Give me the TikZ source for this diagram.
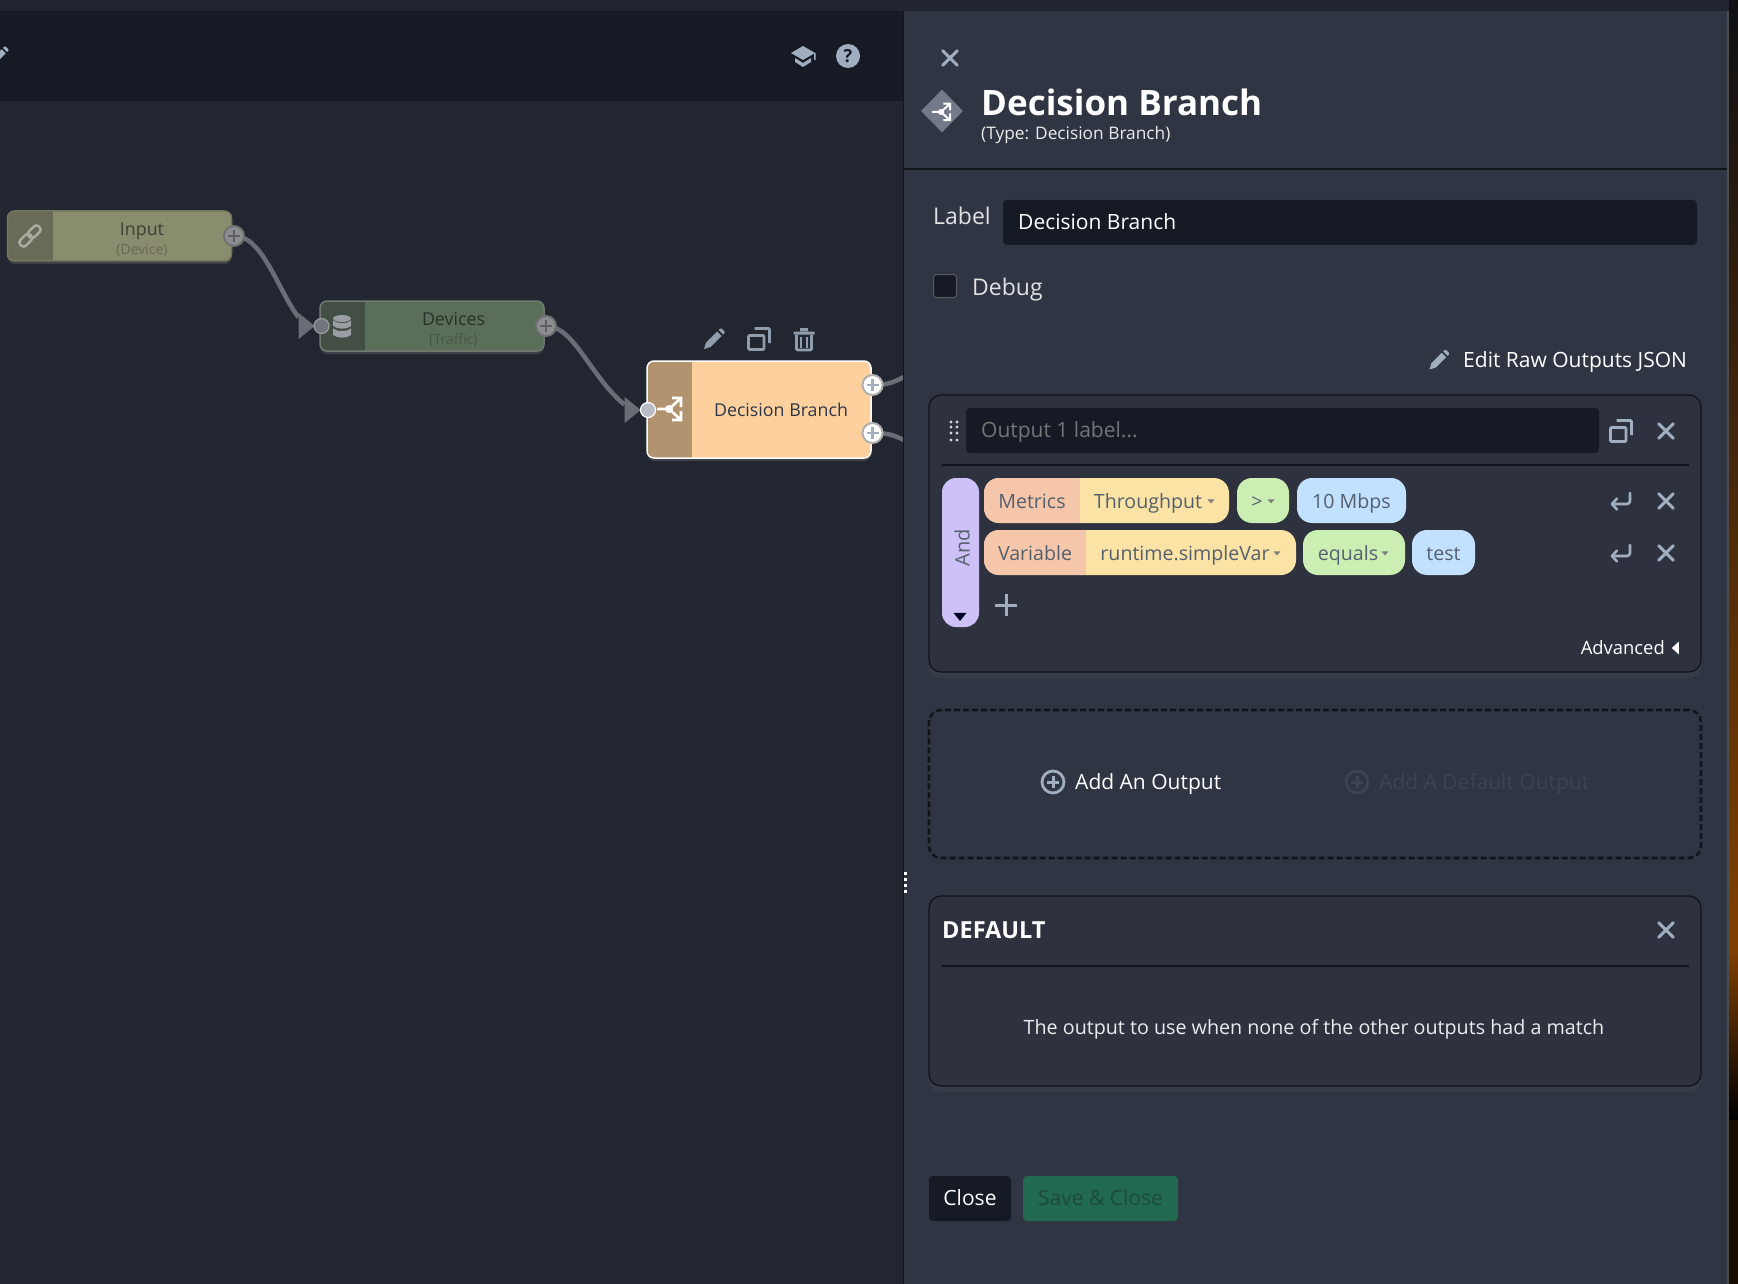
\documentclass[tikz,border=0pt]{standalone}
\usepackage{fontspec}
\setmainfont{Open Sans}
\usetikzlibrary{shapes.geometric,shapes.misc,shadows}
\definecolor{canvasbg}{HTML}{222631}
\definecolor{stripbg}{HTML}{1F2430}
\definecolor{barbg}{HTML}{161A24}
\definecolor{panelbg}{HTML}{2F3543}
\definecolor{cardbg}{HTML}{2E323E}
\definecolor{inkdark}{HTML}{12141B}
\definecolor{iconcol}{HTML}{A0AEC0}
\definecolor{wirecol}{HTML}{6A6D76}
\definecolor{pillink}{HTML}{55606E}
\definecolor{inputbody}{HTML}{8A8C6E}
\definecolor{inputicon}{HTML}{696A58}
\definecolor{devbody}{HTML}{5A6E5A}
\definecolor{devicon}{HTML}{434F45}
\definecolor{branchbody}{HTML}{FDD09E}
\definecolor{branchicon}{HTML}{B2936F}
\definecolor{branchink}{HTML}{2D3748}
\definecolor{badgecol}{HTML}{737988}
\definecolor{pillorange}{HTML}{F5C6AA}
\definecolor{pillyellow}{HTML}{FAE3A4}
\definecolor{pillgreen}{HTML}{CBEFB2}
\definecolor{pillblue}{HTML}{C1E1FF}
\definecolor{pillpurple}{HTML}{CDC1F7}
\definecolor{savefill}{HTML}{216950}
\definecolor{saveink}{HTML}{1E4A3E}
\definecolor{mutedink}{HTML}{3E4352}
\definecolor{portdim}{HTML}{8C8E90}
\definecolor{portdimrim}{HTML}{6F7074}
\definecolor{portdimplus}{HTML}{5F6066}
\definecolor{portrim}{HTML}{B0B0B0}
\definecolor{portindim}{HTML}{73757E}
\definecolor{portindimrim}{HTML}{9A9A9A}
\definecolor{portinlit}{HTML}{B9BCC6}
\definecolor{linkink}{HTML}{A9AB9E}
\definecolor{dbink}{HTML}{9A9DA3}
\newcommand{\fs}[1]{\fontsize{#1}{#1}\selectfont}
\tikzset{
    pencilpic/.pic={\fill (-10,10)--(-8,3.5)--(3,-7.5)--(7.5,-3)--(-3.5,8)--cycle (4.5,-9)--(6,-10.5)--(7.5,-10.5)--(10.5,-7.5)--(10.5,-6)--(9,-4.5)--cycle;},
    copypic/.pic={\draw[line width=2.6,rounded corners=1] (-10.5,-3.5) rectangle (5,10.5) (-4.5,-10.5)--(10.5,-10.5)--(10.5,4);},
    trashpic/.pic={\fill (-10.5,-7.5) rectangle (10.5,-4.5) (-4,-11) rectangle (4,-8);
        \draw[line width=2.6,rounded corners=1] (-7.5,-4)--(-7.5,11)--(7.5,11)--(7.5,-4);
        \draw[line width=2] (-2.6,-2)--(-2.6,9) (2.6,-2)--(2.6,9);},
    enterpic/.pic={\draw[line width=2.6,line cap=round,line join=round,rounded corners=3] (9,-8)--(9,3)--(-9,3);
        \draw[line width=2.6,line cap=round,line join=round] (-4,-2.5)--(-9,3)--(-4,8.5);},
    branchpic/.pic={\fill (0,0) circle (4);
        \draw (-12,0)--(0,0)--(11,-10) (0,0)--(11,10) (3,-11)--(12,-11)--(12,-2) (3,11)--(12,11)--(12,2);},
    dbpic/.pic={\fill (0,-8.5) ellipse (9 and 3.5);
        \fill (-9,-6.5) .. controls (-5,-3) and (5,-3) .. (9,-6.5)--(9,-1) .. controls (5,2.5) and (-5,2.5) .. (-9,-1)--cycle;
        \fill (-9,1.5) .. controls (-5,5) and (5,5) .. (9,1.5)--(9,8) .. controls (5,11.5) and (-5,11.5) .. (-9,8)--cycle;},
    linkpic/.pic={\draw[line width=2.6,rotate=45,rounded corners=3.5] (-13,-4) rectangle (1,4) (-1,-4) rectangle (13,4);},
    capic/.pic={\fill (-12,-3)--(0,-10)--(12,-3)--(0,4)--cycle (-8,2)--(0,7)--(8,2)--(8,6)--(0,11)--(-8,6)--cycle (11,-3) rectangle (12.5,4);},
    uitext/.style={font=\fs{#1},yshift={-.375*#1*1pt},inner sep=0},
    flowbox/.style n args={3}{rectangle,rounded corners=7,draw=#3,line width=1.5,anchor=north west,inner sep=0,outer sep=0,fill=#1,
        drop shadow={shadow xshift=0pt,shadow yshift=-3pt,opacity=.3},
        path picture={\fill[#2,sharp corners] (path picture bounding box.north west) rectangle ([xshift=45pt]path picture bounding box.south west);}},
    portin/.style n args={2}{circle,fill=#1,draw=#2,line width=1.2,minimum size=15,inner sep=0},
    portout/.style n args={3}{circle,fill=#1,draw=#2,line width=2,minimum size=20,inner sep=0,
        path picture={\draw[line width=2.4,#3] ([xshift=-6pt]path picture bounding box.center)--([xshift=6pt]path picture bounding box.center) ([yshift=-6pt]path picture bounding box.center)--([yshift=6pt]path picture bounding box.center);}},
    wiretip/.style={isosceles triangle,isosceles triangle apex angle=80,isosceles triangle stretches,fill=wirecol,minimum height=16,minimum width=26,inner sep=0,anchor=apex},
    wire/.style={draw=wirecol,line width=4.5},
    flowtext/.style={anchor=base,uitext=17.8},
    flowsub/.style={anchor=base,uitext=14},
    crossmark/.style={cross out,draw=iconcol,line width=3,line cap=round,minimum size=11.5,inner sep=0},
    plusmark/.style={cross out,rotate=45,draw=iconcol,line width=3,minimum size=13,inner sep=0},
    darkbox/.style={rectangle,rounded corners=4,fill=barbg,anchor=north west,inner sep=0,outer sep=0},
    card/.style={rectangle,rounded corners=12,draw=inkdark,line width=1.3,fill=cardbg,anchor=north west,inner sep=0,outer sep=0,minimum width=772,
        drop shadow={shadow xshift=0pt,shadow yshift=-6pt,opacity=.1}},
    rulerow/.style={draw=inkdark,line width=1.4},
    pill/.style={rectangle,rounded corners=15,anchor=north west,inner sep=0,outer sep=0,minimum height=45,fill=#1},
    splitpill/.style n args={2}{rectangle,rounded corners=15,anchor=north west,inner sep=0,outer sep=0,minimum height=45,fill=pillyellow,
        path picture={\fill[pillorange,sharp corners] (path picture bounding box.north west) rectangle ([xshift=#1]path picture bounding box.south west);},minimum width=#2},
    pilltext/.style={anchor=base,uitext=19.6,text=pillink},
    carettip/.style={isosceles triangle,isosceles triangle apex angle=80,isosceles triangle stretches,shape border rotate=-90,fill=#1,minimum height=4,minimum width=7,inner sep=0},
    paneltext/.style={anchor=base west,uitext=#1,text=white},
    paneltext/.default=21,
    addicon/.style={circle,draw=#1,line width=2.8,minimum size=22,inner sep=0,
        path picture={\draw[line width=3,#1] ([xshift=-6pt]path picture bounding box.center)--([xshift=6pt]path picture bounding box.center) ([yshift=-6pt]path picture bounding box.center)--([yshift=6pt]path picture bounding box.center);}},
}
\begin{document}
\begin{tikzpicture}[x=1pt,y=-1pt]
\useasboundingbox (0,0) rectangle (1738,1284);
\fill[canvasbg] (0,0) rectangle (1738,1284);
\fill[stripbg] (0,0) rectangle (1738,11);
\fill[barbg] (0,11) rectangle (903,101);
\path (-1,56) pic[iconcol,scale=.9] {pencilpic};
\path (803,56) pic[iconcol] {capic};
\node[circle,fill=iconcol,minimum size=24,inner sep=0,font=\fs{18}\bfseries,text=barbg] (helpbtn) at (848,56) {?};

\coordinate (inputport) at (234,236);
\coordinate (devicesport) at (546,326);
\coordinate (toptport) at (872.5,385);
\coordinate (bottomport) at (872.5,433);
\coordinate (stubtop) at (904,377);
\coordinate (stubbottom) at (904,440);
\node[wiretip] (devicestip) at (315,326) {};
\node[wiretip] (branchtip) at (641,410) {};
\draw[wire] (inputport) .. controls (262,235) and (278,290) .. (devicestip);
\draw[wire] (devicesport) .. controls (574,326) and (590,376) .. (branchtip);
\draw[wire] (toptport) .. controls (890,385) and (895,381) .. (stubtop);
\draw[wire] (bottomport) .. controls (890,433) and (895,436) .. (stubbottom);

\node[flowbox={inputbody}{inputicon}{black!15!inputbody},minimum width=224,minimum height=50] (inputnode) at (7.5,211) {};
\node[flowbox={devbody}{devicon}{gray!60!devbody},minimum width=224,minimum height=50] (devicesnode) at (320,301) {};
\node[flowbox={branchbody}{branchicon}{white},minimum width=224,minimum height=97] (branchnode) at (647,361) {};
\node[portout={portdim}{portdimrim}{portdimplus}] (inputout) at (inputport) {};
\node[portout={portdim}{portdimrim}{portdimplus}] (devicesout) at (devicesport) {};
\node[portout={white}{portrim}{iconcol}] (branchouttop) at (toptport) {};
\node[portout={white}{portrim}{iconcol}] (branchoutbottom) at (bottomport) {};
\node[portin={portindim}{portindimrim}] (devicesin) at (321.5,326) {};
\node[portin={portinlit}{white}] (branchin) at (648,410) {};

\path (30,236) pic[color=linkink] {linkpic};
\path (342,327) pic[color=dbink] {dbpic};
\path (669,409) pic[white,line width=2.6] {branchpic};
\node[flowtext,text=black!55!inputbody] (inputlabel) at (142,229) {Input};
\node[flowsub,text=black!25!inputbody] (inputsub) at (142,249) {(Device)};
\node[flowtext,text=black!55!devbody] (deviceslabel) at (453.5,319) {Devices};
\node[flowsub,text=black!22!devbody] (devicessub) at (453.5,339) {(Traffic)};
\node[flowtext,text=branchink] (branchlabel) at (781,410) {Decision Branch};
\path (714,339) pic[color=iconcol!90!black] {pencilpic};
\path (759,339) pic[color=iconcol!90!black] {copypic};
\path (804,339) pic[color=iconcol!90!black] {trashpic};

\fill[panelbg] (903,11) rectangle (1727,1284);
\draw[inkdark,line width=1.2] (903.5,11)--(903.5,1284);
\fill[gray!60!black] (1727,11) rectangle (1729,1284);
\shade[top color=black!70!panelbg,bottom color=orange!50!black] (1729,0) rectangle (1738,950);
\shade[top color=orange!50!black,bottom color=black] (1729,950) rectangle (1738,1120);
\fill[black!90!orange] (1729,1120) rectangle (1738,1284);
\foreach \doty in {872,878,884,890}
    \fill[white] (904,\doty) rectangle (907,\doty+3);

\node[crossmark] (panelclose) at (950,58) {};
\node[diamond,fill=badgecol,minimum width=42,minimum height=43,inner sep=0] (typebadge) at (942,111) {};
\path (941,112) pic[white,scale=.75,line width=2] {branchpic};
\node[anchor=base west,uitext=35,font=\fs{35}\bfseries,text=white] (paneltitle) at (981,102) {Decision Branch};
\node[anchor=base west,uitext=17.3,text=white!90!panelbg] (paneltype) at (981,133) {(Type: Decision Branch)};
\draw[rulerow] (903,169)--(1727,169);

\node[paneltext=23,text=white!85!panelbg] (labelcaption) at (933,216) {Label};
\node[darkbox,minimum width=694,minimum height=45] (labelinput) at (1003,200) {};
\node[paneltext] (labelvalue) at (1018,222) {Decision Branch};
\node[rectangle,rounded corners=3,fill=barbg,draw=gray!50!panelbg,line width=1,minimum size=23,inner sep=0] (debugbox) at (945,286) {};
\node[paneltext=23,text=white!85!panelbg] (debuglabel) at (972,287) {Debug};
\path (1439,360) pic[iconcol,scale=.95] {pencilpic};
\node[paneltext] (rawlabel) at (1463,360) {Edit Raw Outputs JSON};

\node[card,minimum height=277] (outputcard) at (929,395) {};
\foreach \doty in {422,427,433,440}
    \fill[iconcol!50!white] (951,\doty) circle (1.6) (957,\doty) circle (1.6);
\node[darkbox,minimum width=633,minimum height=45] (outputinput) at (966,408) {};
\node[paneltext,text=gray!85!panelbg] (outputhint) at (981,430) {Output 1 label...};
\path (1621,431) pic[iconcol] {copypic};
\node[crossmark] (outputclose) at (1666,431) {};
\draw[rulerow] (942,465)--(1689,465);

\node[pill=pillpurple,minimum width=37,minimum height=149,rounded corners=14] (andbar) at (942,478) {};
\node[rotate=90,font=\fs{20},text=pillink,inner sep=0] (andlabel) at (962,548) {And};
\node[carettip=black!85!blue,minimum height=8,minimum width=13] (andcaret) at (960,616) {};
\node[splitpill={96pt}{245}] (metricspill) at (984,478) {};
\node[pill=pillgreen,minimum width=52] (gtpill) at (1237,478) {};
\node[pill=pillblue,minimum width=109] (mbpspill) at (1297,478) {};
\node[splitpill={102pt}{312}] (variablepill) at (984,530) {};
\node[pill=pillgreen,minimum width=102] (equalspill) at (1303,530) {};
\node[pill=pillblue,minimum width=63] (testpill) at (1412,530) {};
\node[pilltext] (metricslabel) at (1032,501) {Metrics};
\node[pilltext] (throughputlabel) at (1148,501) {Throughput};
\node[carettip=gray] (throughputcaret) at (1211,501) {};
\node[pilltext] (gtlabel) at (1257,501) {>};
\node[carettip=gray] (gtcaret) at (1271,501) {};
\node[pilltext] (mbpslabel) at (1351.5,501) {10 Mbps};
\node[pilltext] (variablelabel) at (1035,553) {Variable};
\node[pilltext] (runtimelabel) at (1185,553) {runtime.simpleVar};
\node[carettip=gray] (runtimecaret) at (1277,553) {};
\node[pilltext] (equalslabel) at (1348,553) {equals};
\node[carettip=gray] (equalscaret) at (1385,553) {};
\node[pilltext] (testlabel) at (1443.5,553) {test};
\path (1621,501) pic[iconcol] {enterpic};
\node[crossmark] (rowoneclose) at (1666,501) {};
\path (1621,553) pic[iconcol] {enterpic};
\node[crossmark] (rowtwoclose) at (1666,553) {};
\node[plusmark] (addrow) at (1006,605) {};
\node[anchor=base east,uitext=18.4,text=white] (advancedlabel) at (1665,648) {Advanced};
\node[isosceles triangle,isosceles triangle apex angle=80,isosceles triangle stretches,shape border rotate=180,fill=white,minimum height=7,minimum width=13,inner sep=0] (advancedcaret) at (1676,648) {};

\node[rectangle,rounded corners=12,draw=inkdark,line width=2.6,dash pattern=on 6 off 3,anchor=north west,minimum width=772,minimum height=148,inner sep=0,outer sep=0] (addbox) at (929,710) {};
\node[addicon=iconcol] (addoutputicon) at (1053,782) {};
\node[paneltext] (addoutputlabel) at (1075,782) {Add An Output};
\node[addicon=mutedink] (adddefaulticon) at (1357,782) {};
\node[paneltext,text=mutedink] (adddefaultlabel) at (1379,782) {Add A Default Output};

\node[card,minimum height=190] (defaultcard) at (929,896) {};
\node[anchor=base west,uitext=23,font=\fs{23.5}\bfseries,text=white] (defaulttitle) at (942,930) {DEFAULT};
\node[crossmark] (defaultclose) at (1666,930) {};
\draw[rulerow] (942,966)--(1689,966);
\node[anchor=base,uitext=19.7,text=white!90!panelbg] (defaulttext) at (1314,1027) {The output to use when none of the other outputs had a match};

\node[darkbox,minimum width=82,minimum height=45] (closebtn) at (929,1176) {};
\node[paneltext,anchor=base] (closelabel) at (970,1198) {Close};
\node[darkbox,fill=savefill,minimum width=155,minimum height=45] (savebtn) at (1023,1176) {};
\node[paneltext,anchor=base,text=saveink] (savelabel) at (1100.5,1198) {Save \& Close};
\end{tikzpicture}
\end{document}
